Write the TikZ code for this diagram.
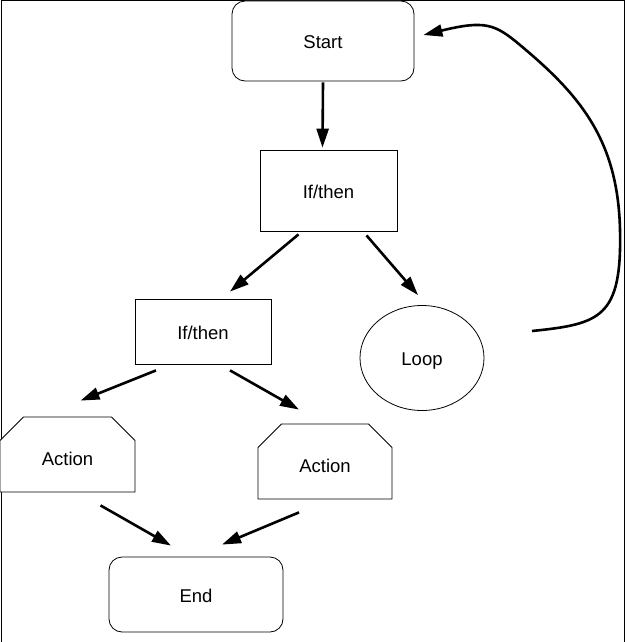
\documentclass[tikz,border=0pt]{standalone}
\usepackage{fontspec}
\setmainfont{Liberation Sans}
\usetikzlibrary{arrows.meta,shapes.geometric,shapes.misc}

\begin{document}
\begin{tikzpicture}[x=1pt,y=-1pt,
      every node/.style={font=\fontsize{18.5}{21}\selectfont,text height=15pt,text depth=0pt},
      roundNode/.style={draw,line width=0.8pt,rounded corners=13pt,minimum width=182pt,minimum height=80pt},
      boxNode/.style={draw,line width=0.8pt,minimum width=137pt,minimum height=81pt},
      actNode/.style={draw,line width=0.8pt,chamfered rectangle,chamfered rectangle corners={north west,north east},
        chamfered rectangle xsep=13pt,chamfered rectangle ysep=13pt,inner sep=0pt,minimum width=135pt,minimum height=75pt,
        text height=21pt},
      loopNode/.style={draw,line width=0.8pt,ellipse,inner sep=0pt,minimum width=124pt,minimum height=105pt},
      flow/.style={line width=2.6pt,-{Triangle[length=19pt,width=12pt]}},
    ]

    \useasboundingbox (0,0) rectangle (626,642);
    \draw[line width=1pt] (1,642) -- (1,1) -- (624,1) -- (624,642);

    \node[roundNode,fill=white] (start) at (323,41) {Start};
    \node[boxNode] (ifA) at (328.5,190.5) {If/then};
    \node[boxNode,minimum height=65pt,minimum width=136pt] (ifB) at (203,331.5) {If/then};
    \node[loopNode] (loop) at (422,358) {Loop};
    \node[actNode,fill=white] (actA) at (67.5,454.5) {Action};
    \node[actNode,minimum width=134pt] (actB) at (325,461.5) {Action};
    \node[roundNode,minimum width=174pt,minimum height=75pt] (end) at (196,594.5) {End};

    \draw[flow] ([yshift=-1pt]start.south) -- ([xshift=-6pt,yshift=2pt]ifA.north);
    \draw[flow] ([xshift=-30pt,yshift=-3pt]ifA.south) -- ([xshift=27pt,yshift=7pt]ifB.north);
    \draw[flow] ([xshift=38pt,yshift=-4pt]ifA.south) -- ([xshift=-4pt,yshift=10pt]loop.north);
    \draw[flow] ([xshift=-47pt,yshift=-6pt]ifB.south) -- ([xshift=13pt,yshift=16pt]actA.north);
    \draw[flow] ([xshift=27pt,yshift=-6pt]ifB.south) -- ([xshift=-26pt,yshift=14pt]actB.north);
    \draw[flow] ([xshift=33pt,yshift=-13pt]actA.south) -- ([xshift=-25pt,yshift=11pt]end.north);
    \draw[flow] ([xshift=-26pt,yshift=-13pt]actB.south) -- ([xshift=26pt,yshift=12pt]end.north);

    \coordinate (loopTail) at (532,331);
    \draw[flow] (loopTail) .. controls (600,324) and (622,318) .. (620,230)
      .. controls (618,140) and (580,95) .. (520,45)
      .. controls (495,24) and (485,20) .. ([xshift=9pt,yshift=6pt]start.east);

\end{tikzpicture}
\end{document}
